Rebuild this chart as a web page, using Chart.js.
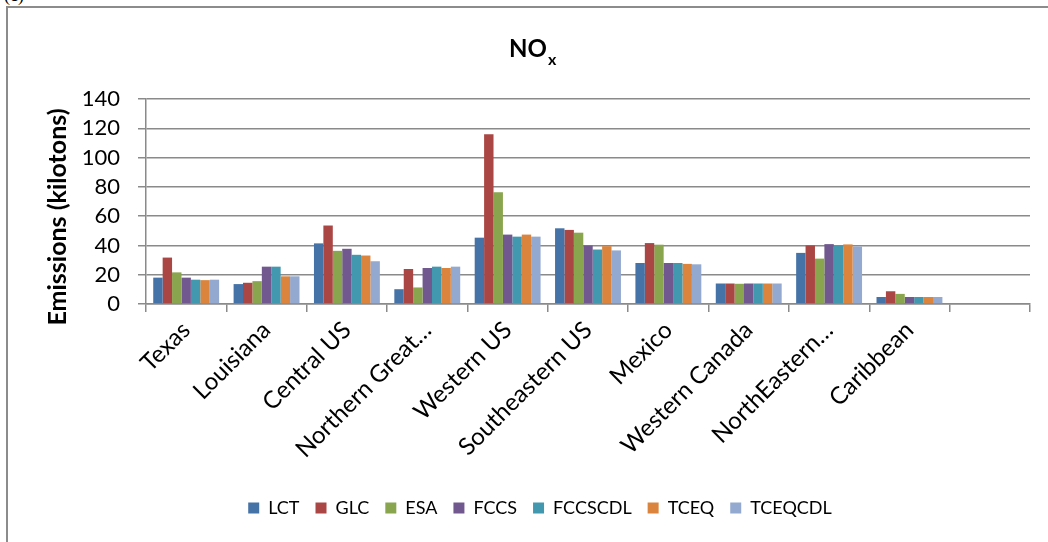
<!DOCTYPE html>
<html>
<head>
<meta charset="utf-8">
<script src="https://cdn.jsdelivr.net/npm/chart.js@4.4.0/dist/chart.umd.min.js"></script>
<style>
    html, body { margin: 0; padding: 0; background: #fff; overflow: hidden; }
    #wrap { position: relative; width: 1048px; height: 542px; overflow: hidden; }
    #frame { position: absolute; left: 6px; top: 6px; width: 1100px; height: 600px; border: 2px solid #8c8c8c; box-sizing: border-box; }
    #tag { position: absolute; left: 4px; top: -15px; font: 18px "Liberation Serif"; color: #000; }
    canvas { position: absolute; left: 0; top: 0; }
</style>
</head>
<body>
<div id="wrap">
    <div id="tag">(c)</div>
    <div id="frame"></div>
    <canvas id="grafico" width="1048" height="542"></canvas>
</div>
<script>
// Regiões (a última categoria fica vazia, como no original)
const regioes = ['Texas', 'Louisiana', 'Central US', 'Northern Great…', 'Western US', 'Southeastern US',
    'Mexico', 'Western Canada', 'NorthEastern…', 'Caribbean', ''];

// Emissões de NOx (kilotons) por inventário
const lct     = [18.0, 13.6, 41.4, 10.1, 45.3, 51.7, 28.0, 14.0, 34.9, 4.8, null];
const glc     = [31.7, 14.5, 53.6, 23.9, 115.9, 50.6, 41.6, 14.0, 40.0, 8.7, null];
const esa     = [21.6, 15.6, 36.3, 11.3, 76.3, 48.7, 40.5, 13.8, 31.0, 6.9, null];
const fccs    = [18.0, 25.5, 37.7, 24.6, 47.4, 40.0, 28.0, 14.0, 40.9, 4.8, null];
const fccscdl = [16.6, 25.5, 33.6, 25.5, 46.0, 37.2, 28.0, 14.0, 40.0, 4.8, null];
const tceq    = [16.3, 18.9, 33.1, 24.6, 47.4, 39.5, 27.4, 14.0, 40.7, 4.8, null];
const tceqcdl = [16.6, 18.9, 29.2, 25.5, 46.0, 36.6, 27.1, 14.0, 39.3, 4.8, null];

const series = ['LCT', 'GLC', 'ESA', 'FCCS', 'FCCSCDL', 'TCEQ', 'TCEQCDL'];
const cores = ['#4572A7', '#AA4643', '#89A54E', '#71588F', '#4198AF', '#DB843D', '#93A9CF'];
const yTicks = [0, 20, 40, 60, 80, 100, 120, 140];

const cinza = '#8a8a8a';

// Título "NOx" com o x subscrito e título do eixo Y
const titulos = {
    id: 'titulos',
    afterDraw(chart) {
        const ctx = chart.ctx;
        ctx.save();
        ctx.fillStyle = '#000';
        ctx.textBaseline = 'alphabetic';
        ctx.font = 'bold 24px Lato';
        ctx.fillText('NO', 509, 57);
        const w = ctx.measureText('NO').width;
        ctx.font = 'bold 16px Lato';
        ctx.fillText('x', 509 + w + 1, 65);

        ctx.translate(58, 217);
        ctx.rotate(-Math.PI / 2);
        ctx.textAlign = 'center';
        ctx.textBaseline = 'middle';
        ctx.font = 'bold 25px Lato';
        ctx.fillText('Emissions (kilotons)', 0, 0);
        ctx.restore();
    }
};

function montarGrafico() {
    const ctx = document.getElementById('grafico').getContext('2d');
    const valores = [lct, glc, esa, fccs, fccscdl, tceq, tceqcdl];

    new Chart(ctx, {
        type: 'bar',
        data: {
            labels: regioes,
            datasets: series.map((nome, i) => ({
                label: nome,
                data: valores[i],
                backgroundColor: cores[i],
                borderWidth: 0,
                barPercentage: 1,
                categoryPercentage: 0.82
            }))
        },
        options: {
            responsive: false,
            animation: false,
            devicePixelRatio: 1,
            layout: { padding: { left: 50, right: 18, top: 99, bottom: 15 } },
            plugins: {
                tooltip: { enabled: false },
                legend: {
                    position: 'bottom',
                    labels: {
                        boxWidth: 11,
                        boxHeight: 11,
                        padding: 16,
                        color: '#000',
                        font: { family: 'Lato', size: 18 }
                    }
                }
            },
            scales: {
                x: {
                    grid: { drawOnChartArea: false, drawTicks: true, tickLength: 8, color: cinza, lineWidth: 1.5, offset: true },
                    border: { color: cinza, width: 1.5 },
                    ticks: {
                        autoSkip: false,
                        minRotation: 45,
                        maxRotation: 45,
                        padding: 4,
                        color: '#000',
                        font: { family: 'Lato', size: 24 }
                    },
                    afterFit: s => { s.height = 179; }
                },
                y: {
                    min: 0,
                    max: 140,
                    afterBuildTicks: s => { s.ticks = yTicks.map(v => ({ value: v })); },
                    grid: { color: cinza, lineWidth: 1.5, tickLength: 8 },
                    border: { color: cinza, width: 1.5 },
                    ticks: { autoSkip: false, padding: 18, color: '#000', font: { family: 'Lato', size: 22 } },
                    afterFit: s => { s.width = 96; }
                }
            }
        },
        plugins: [titulos]
    });
}

montarGrafico();
</script>
</body>
</html>
